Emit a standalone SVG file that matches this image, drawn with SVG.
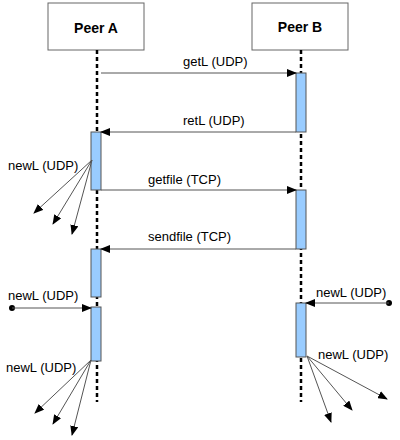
<svg xmlns="http://www.w3.org/2000/svg" width="400" height="440" viewBox="0 0 400 440">
<defs>
<marker id="ah" markerWidth="10" markerHeight="8" refX="9" refY="4" orient="auto" markerUnits="userSpaceOnUse">
<path d="M0,0 L10,4 L0,8 Z" fill="#000"/>
</marker>
<style>
.box{fill:#fff;stroke:#666;stroke-width:1}
.title{font-family:"Liberation Sans",Arial,sans-serif;font-size:14px;font-weight:bold;fill:#000;text-anchor:middle}
.life{stroke:#000;stroke-width:2.5;stroke-dasharray:4,3;fill:none}
.act{fill:#99ccff;stroke:#555;stroke-width:1}
.msg{stroke:#555;stroke-width:1;fill:none;marker-end:url(#ah)}
.lbl{font-family:"Liberation Sans",Arial,sans-serif;font-size:13px;fill:#000}
</style>
</defs>
<rect width="400" height="440" fill="#fff"/>
<g id="peerA">
<rect class="box" x="48" y="3" width="96" height="47"/>
<text class="title" x="96" y="33">Peer A</text>
<line class="life" x1="97" y1="50" x2="97" y2="402"/>
</g>
<g id="peerB">
<rect class="box" x="252" y="3" width="96" height="47"/>
<text class="title" x="300" y="32">Peer B</text>
<line class="life" x1="301" y1="50" x2="301" y2="402"/>
</g>
<g id="activations">
<rect class="act" x="91" y="132" width="10" height="58"/>
<rect class="act" x="91" y="249" width="10" height="48"/>
<rect class="act" x="91" y="307" width="10" height="54"/>
<rect class="act" x="296" y="73" width="10" height="59"/>
<rect class="act" x="296" y="190" width="10" height="59"/>
<rect class="act" x="296" y="303" width="10" height="54"/>
</g>
<g id="connectors">
<line class="msg" x1="101" y1="73" x2="296" y2="73"/>
<line class="msg" x1="296" y1="132" x2="101" y2="132"/>
<line class="msg" x1="101" y1="190" x2="296" y2="190"/>
<line class="msg" x1="296" y1="249" x2="101" y2="249"/>
<circle cx="12" cy="308" r="3" fill="#000"/>
<line class="msg" x1="12" y1="308" x2="91" y2="308"/>
<circle cx="389" cy="303" r="3" fill="#000"/>
<line class="msg" x1="389" y1="303" x2="306" y2="303"/>
<line class="msg" x1="92" y1="160" x2="34" y2="213"/>
<line class="msg" x1="92" y1="160" x2="53" y2="224"/>
<line class="msg" x1="92" y1="160" x2="72" y2="234"/>
<line class="msg" x1="91" y1="360" x2="35" y2="413"/>
<line class="msg" x1="91" y1="360" x2="53" y2="424"/>
<line class="msg" x1="91" y1="360" x2="72" y2="435"/>
<line class="msg" x1="307" y1="356" x2="331" y2="422"/>
<line class="msg" x1="307" y1="356" x2="352" y2="410"/>
<line class="msg" x1="307" y1="356" x2="387" y2="399"/>
</g>
<g id="labels">
<text class="lbl" x="183" y="66">getL (UDP)</text>
<text class="lbl" x="183" y="125">retL (UDP)</text>
<text class="lbl" x="148" y="184">getfile (TCP)</text>
<text class="lbl" x="148" y="241">sendfile (TCP)</text>
<text class="lbl" x="8" y="170">newL (UDP)</text>
<text class="lbl" x="8" y="300">newL (UDP)</text>
<text class="lbl" x="316" y="297">newL (UDP)</text>
<text class="lbl" x="6" y="372">newL (UDP)</text>
<text class="lbl" x="318" y="359">newL (UDP)</text>
</g>
</svg>
